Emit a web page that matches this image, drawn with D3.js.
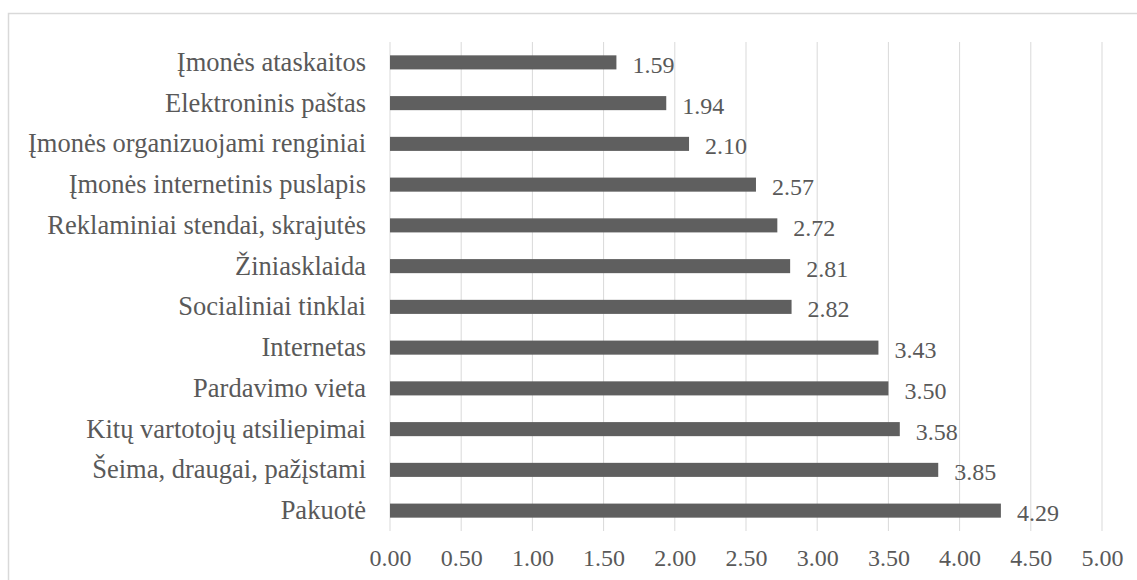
<!DOCTYPE html>
<html>
<head>
<meta charset="utf-8">
<script src="https://cdn.jsdelivr.net/npm/d3@7"></script>
<style>
  html, body { margin: 0; padding: 0; background: #ffffff; }
  svg { display: block; }
  text { font-family: "Liberation Serif", "Times New Roman", serif; fill: #595959; }
</style>
</head>
<body>
<svg id="chart" width="1137" height="580"></svg>
<script>
// Information sources, ordered top to bottom, with their mean scores
const categories = [
  "Įmonės ataskaitos",
  "Elektroninis paštas",
  "Įmonės organizuojami renginiai",
  "Įmonės internetinis puslapis",
  "Reklaminiai stendai, skrajutės",
  "Žiniasklaida",
  "Socialiniai tinklai",
  "Internetas",
  "Pardavimo vieta",
  "Kitų vartotojų atsiliepimai",
  "Šeima, draugai, pažįstami",
  "Pakuotė"
];
const values = [1.59, 1.94, 2.10, 2.57, 2.72, 2.81, 2.82, 3.43, 3.50, 3.58, 3.85, 4.29];
const tickValues = [0, 0.5, 1, 1.5, 2, 2.5, 3, 3.5, 4, 4.5, 5];

const svg = d3.select("#chart");
const W = 1137, H = 580;
const plot = { left: 390, right: 1102, top: 42, bottom: 531 };

// Outer chart frame (runs off the right and bottom edges)
svg.append("rect")
  .attr("x", 8.5).attr("y", 13.5)
  .attr("width", W).attr("height", H)
  .attr("fill", "none")
  .attr("stroke", "#d9d9d9")
  .attr("stroke-width", 1.5);

const x = d3.scaleLinear().domain([0, 5]).range([plot.left, plot.right]);
const y = d3.scaleBand().domain(categories).range([plot.top, plot.bottom]).paddingInner(0.655).paddingOuter(0.3275);

// Vertical gridlines
svg.append("g").selectAll("line")
  .data(tickValues)
  .join("line")
  .attr("x1", d => x(d)).attr("x2", d => x(d))
  .attr("y1", plot.top).attr("y2", plot.bottom)
  .attr("stroke", "#d9d9d9")
  .attr("stroke-width", 1);

// Bottom axis tick labels
const xAxis = d3.axisBottom(x)
  .tickValues(tickValues)
  .tickFormat(d3.format(".2f"))
  .tickSize(0)
  .tickPadding(0);
const gx = svg.append("g")
  .attr("transform", `translate(0,${plot.bottom})`)
  .call(xAxis);
gx.select(".domain").remove();
gx.selectAll("text")
  .attr("y", 27)
  .attr("dy", "0.35em")
  .attr("font-size", 24)
  .attr("fill", "#595959");

// Category labels
const yAxis = d3.axisLeft(y).tickSize(0).tickPadding(24);
const gy = svg.append("g")
  .attr("transform", `translate(${plot.left},0)`)
  .call(yAxis);
gy.select(".domain").remove();
gy.selectAll("text")
  .attr("font-size", 26.5)
  .attr("fill", "#595959");

// Bars
svg.append("g").selectAll("rect")
  .data(categories)
  .join("rect")
  .attr("x", x(0))
  .attr("y", d => y(d))
  .attr("width", (d, i) => x(values[i]) - x(0))
  .attr("height", y.bandwidth())
  .attr("fill", "#5f5f5f");

// Value labels
svg.append("g").selectAll("text")
  .data(categories)
  .join("text")
  .attr("x", (d, i) => x(values[i]) + 16)
  .attr("y", d => y(d) + y.bandwidth() / 2 + 2)
  .attr("dy", "0.35em")
  .attr("font-size", 24)
  .text((d, i) => values[i].toFixed(2));
</script>
</body>
</html>
